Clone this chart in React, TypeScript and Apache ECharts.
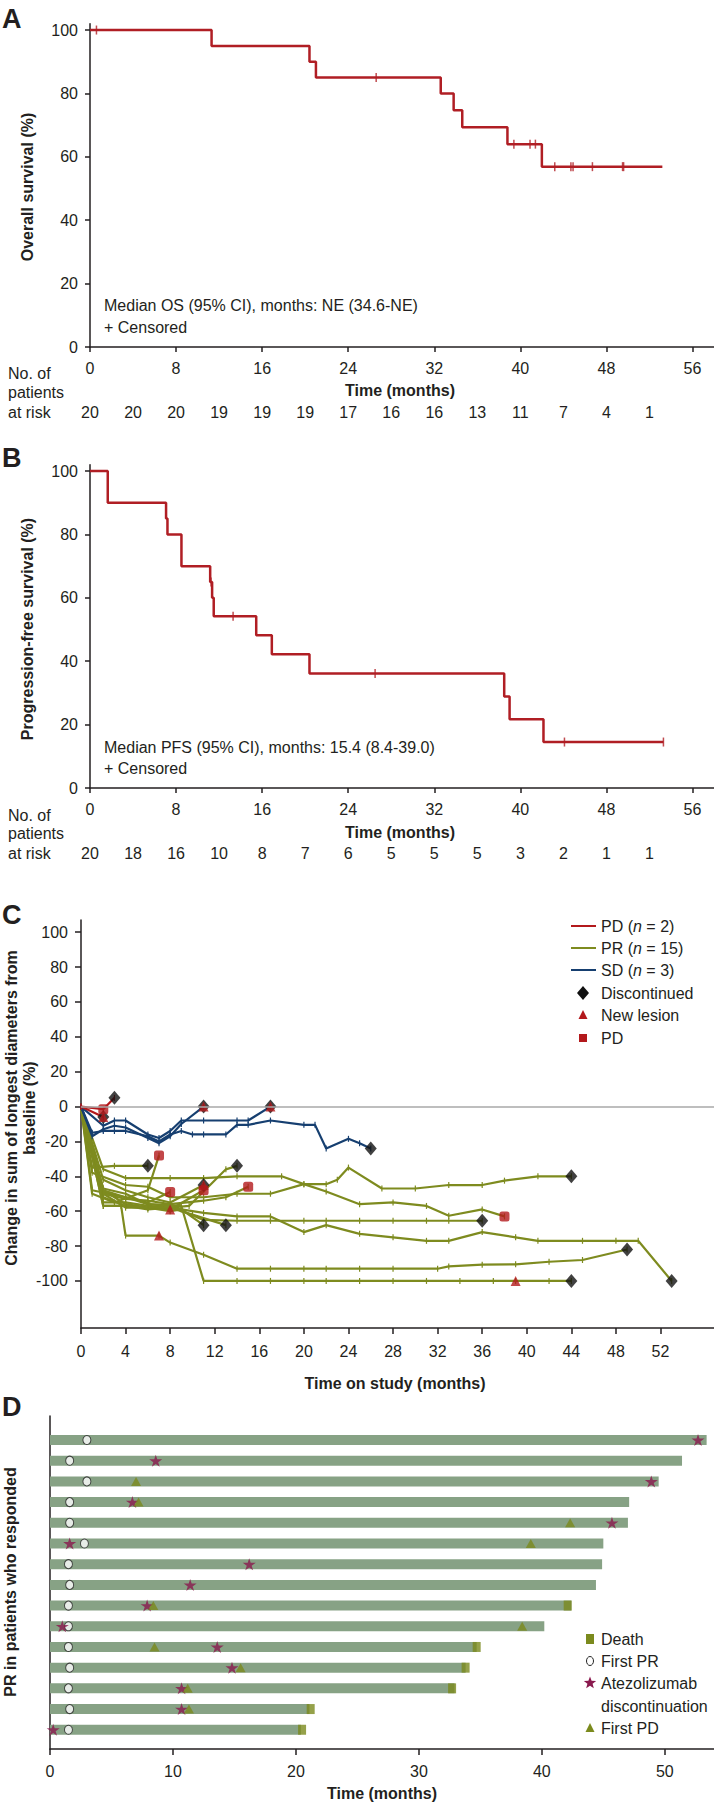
import React, { useEffect, useRef } from "react";
import * as echarts from "echarts";

const FONT = '"Liberation Sans", Arial, Helvetica, sans-serif';
const TXT = "#231f20";
const KM_RED = "#b01e24";
const PD_RED = "#b3191c";
const PR_OLIVE = "#7e8b1f";
const SD_BLUE = "#163f70";
const BAR_GREEN = "#87a285";
const STAR_PURPLE = "#8a1a4e";
const OLIVE_MARK = "#7b8a1d";

// ---------- Panel A: overall survival ----------
const osSteps = [[0, 100], [11.3, 95], [20.4, 90], [21.0, 85], [32.6, 80], [33.8, 74.7], [34.6, 69.3], [38.8, 64.0], [42.0, 56.9], [53.2, 56.9]];
const osCensored = [[0.6, 100], [26.6, 85], [39.4, 64], [40.9, 64], [41.4, 64], [43.2, 56.9], [44.7, 56.9], [44.9, 56.9], [46.7, 56.9], [49.5, 56.9], [49.6, 56.9]];
const osAtRisk = [20, 20, 20, 19, 19, 19, 17, 16, 16, 13, 11, 7, 4, 1];

// ---------- Panel B: progression-free survival ----------
const pfsSteps = [[0, 100], [1.65, 90], [7.07, 85], [7.2, 80], [8.5, 70], [11.17, 65], [11.35, 60], [11.5, 54.2], [15.45, 48.2], [16.9, 42.2], [20.4, 36.1], [38.5, 28.9], [39.0, 21.7], [42.15, 14.5], [53.3, 14.5]];
const pfsCensored = [[11.25, 65], [13.3, 54.2], [26.5, 36.1], [44.1, 14.5], [53.3, 14.5]];
const pfsAtRisk = [20, 18, 16, 10, 8, 7, 6, 5, 5, 5, 3, 2, 1, 1];

const kmXTicks = [0, 8, 16, 24, 32, 40, 48, 56];
const atRiskTimes = [0, 4, 8, 12, 16, 20, 24, 28, 32, 36, 40, 44, 48, 52];
const kmYTicks = [0, 20, 40, 60, 80, 100];

// ---------- Panel C: spider plot ----------
const pdLines = [
  [[0, 0], [2, -1.5], [3, 5]],
  [[0, 0], [2, -6]],
];
const sdLines = [
  [[0, 0], [1, -17], [2, -13], [3, -11], [4, -12], [6, -18], [7, -21], [8, -17], [9, -10], [11, 0]],
  [[0, 0], [2, -11], [3, -8], [4, -8], [6, -16], [7, -18], [8, -14], [9, -8], [11, -8], [14, -8], [15, -8], [17, 0]],
  [[0, 0], [1, -15], [2, -14], [3, -14], [4, -14], [6, -17], [7, -20], [8, -16], [9, -14], [10, -16], [11, -16], [13, -16], [14, -10.5], [15, -10.5], [17, -8], [20, -10.5], [21, -10.5], [22, -24], [24, -18.5], [25, -21], [26, -24]],
];
const prLines = [
  [[0, 0], [1, -35], [3, -34], [6, -34]],
  [[0, 0], [1, -50], [3, -55], [6, -48], [7, -28]],
  [[0, 0], [1, -48], [4, -52], [6, -55], [8, -49]],
  [[0, 0], [2, -42], [4, -48], [6, -52], [8, -55], [11, -45]],
  [[0, 0], [2, -48], [4, -56], [6, -58], [8, -59], [11, -48]],
  [[0, 0], [2, -50], [4, -58], [6, -58], [8, -60], [9, -59], [11, -68]],
  [[0, 0], [2, -52], [4, -57], [6, -59], [8, -58], [10, -62], [13, -68]],
  [[0, 0], [2, -55], [4, -55], [6, -57], [8, -58], [9.7, -57], [13, -36], [14, -34]],
  [[0, 0], [2, -50], [4, -53], [6, -54], [8, -56], [11, -54], [13, -52], [15, -46]],
  [[0, 0], [1, -38], [4, -45], [6, -46], [8, -52], [11, -52], [14, -50], [17, -50], [20, -44.5], [22, -44.5], [23, -42], [24, -35], [27, -47], [30, -47], [33, -45], [36, -45], [38, -42.5], [41, -40], [44, -40]],
  [[0, 0], [2, -36], [4, -41], [8, -41], [11, -41], [14, -40], [18, -40], [20, -44.5], [22, -48.7], [25, -56], [28, -55], [31, -57], [33, -62.6], [36, -59], [38, -63]],
  [[0, 0], [2, -47], [4, -50], [6, -56], [8, -57], [11, -65], [14, -65.5], [17, -65.5], [20, -65.5], [22, -65.5], [25, -65.5], [28, -65.5], [31, -65.5], [33, -65.5], [36, -65.5]],
  [[0, 0], [2, -57], [4, -57], [6, -58], [8, -58], [11, -61], [14, -63], [17, -63], [20, -72], [22, -68], [25, -73], [28, -75], [31, -77], [33, -77], [36, -72], [39, -75], [41, -77], [45, -77], [48, -77], [50, -77], [53, -100]],
  [[0, 0], [2, -57], [3.6, -57], [4, -74], [7, -74], [8, -78], [11, -85], [14, -93], [17, -93], [20, -93], [22, -93], [25, -93], [28, -93], [32, -93], [33, -91.7], [36, -90.7], [39, -90.5], [42, -89], [45, -88], [49, -82]],
  [[0, 0], [2, -48], [4, -52], [6, -56], [9, -57], [11, -100], [14, -100], [17, -100], [20, -100], [22, -100], [25, -100], [28, -100], [31, -100], [34, -100], [37, -100], [39, -100], [42, -100], [44, -100]],
];
const discontinuedPts = [[3, 5], [2, -6], [11, 0], [17, 0], [26, -24], [6, -34], [11, -45], [11, -68], [13, -68], [14, -34], [44, -40], [36, -65.5], [53, -100], [49, -82], [44, -100]];
const newLesionPts = [[2, -6], [11, 0], [17, 0], [11, -45], [8, -59], [7, -74], [39, -100]];
const pdPts = [[2, -1.5], [7, -28], [8, -49], [11, -48], [15, -46], [38, -63]];
const cXTicks = [0, 4, 8, 12, 16, 20, 24, 28, 32, 36, 40, 44, 48, 52];
const cYTicks = [-100, -80, -60, -40, -20, 0, 20, 40, 60, 80, 100];

// ---------- Panel D: swimmer plot ----------
const barEnds = [53.4, 51.4, 49.5, 47.1, 47.0, 45.0, 44.9, 44.4, 42.4, 40.2, 34.7, 33.8, 32.9, 21.1, 20.4];
const firstPR = [3.0, 1.6, 3.0, 1.6, 1.6, 2.8, 1.5, 1.6, 1.5, 1.5, 1.5, 1.6, 1.5, 1.6, 1.5];
const atezoDisc = [52.7, 8.6, 48.9, 6.7, 45.7, 1.6, 16.2, 11.4, 7.9, 1.0, 13.6, 14.8, 10.7, 10.7, 0.26];
const firstPD = [null, null, 7.0, 7.2, 42.3, 39.1, null, null, 8.4, 38.4, 8.5, 15.5, 11.2, 11.3, null];
const deathT = [null, null, null, null, null, null, null, null, 42.1, null, 34.7, 33.8, 32.7, 21.2, 20.5];
const dXTicks = [0, 10, 20, 30, 40, 50];

const STAR = "path://M50,0 L61,35 L98,35 L68,57 L79,91 L50,70 L21,91 L32,57 L2,35 L39,35 Z";

const axisLine = { show: true, onZero: false, lineStyle: { color: TXT, width: 1.5 } };
const lbl = { color: TXT, fontSize: 16, fontFamily: FONT };

function txt(x: number, y: number, text: string, extra: any = {}, rot = 0) {
  return {
    type: "text",
    x,
    y,
    rotation: rot,
    silent: true,
    style: {
      text,
      fill: TXT,
      fontSize: 16,
      fontFamily: FONT,
      align: "left",
      verticalAlign: "middle",
      ...extra,
    },
  };
}

function starPoints(cx: number, cy: number, r: number) {
  const pts: number[][] = [];
  for (let i = 0; i < 10; i++) {
    const rr = i % 2 === 0 ? r : r * 0.42;
    const a = -Math.PI / 2 + (i * Math.PI) / 5;
    pts.push([cx + rr * Math.cos(a), cy + rr * Math.sin(a)]);
  }
  return pts;
}

function kmX(grid: number) {
  return {
    gridIndex: grid,
    type: "value",
    min: 0,
    max: 58,
    interval: 8,
    axisLine,
    axisTick: { show: true, length: 5, customValues: kmXTicks, lineStyle: { color: TXT, width: 1.5 } },
    axisLabel: { ...lbl, margin: 13, customValues: kmXTicks, formatter: (v: number) => (v > 56 ? "" : String(v)) },
    splitLine: { show: false },
  };
}
function riskX(grid: number, counts: number[]) {
  return {
    gridIndex: grid,
    type: "value",
    position: "bottom",
    offset: 49,
    min: 0,
    max: 58,
    interval: 4,
    axisLine: { show: false },
    axisTick: { show: false },
    axisLabel: {
      ...lbl,
      margin: 8,
      customValues: atRiskTimes,
      formatter: (v: number) => {
        const i = atRiskTimes.indexOf(v);
        return i >= 0 ? String(counts[i]) : "";
      },
    },
    splitLine: { show: false },
  };
}
function kmY(grid: number) {
  return {
    gridIndex: grid,
    type: "value",
    min: 0,
    max: 102,
    interval: 20,
    axisLine,
    axisTick: { show: true, length: 5, customValues: kmYTicks, lineStyle: { color: TXT, width: 1.5 } },
    axisLabel: { ...lbl, margin: 12, customValues: kmYTicks, formatter: (v: number) => (v > 100 ? "" : String(v)) },
    splitLine: { show: false },
  };
}

function buildOption() {
  const series: any[] = [];
  // KM curves
  series.push({ type: "line", xAxisIndex: 0, yAxisIndex: 0, step: "end", data: osSteps, symbol: "none", lineStyle: { color: KM_RED, width: 2.5 }, emphasis: { disabled: true } });
  series.push({ type: "scatter", xAxisIndex: 0, yAxisIndex: 0, data: osCensored, symbol: "rect", symbolSize: [1.5, 9], itemStyle: { color: KM_RED }, emphasis: { disabled: true } });
  series.push({ type: "line", xAxisIndex: 2, yAxisIndex: 1, step: "end", data: pfsSteps, symbol: "none", lineStyle: { color: KM_RED, width: 2.5 }, emphasis: { disabled: true } });
  series.push({ type: "scatter", xAxisIndex: 2, yAxisIndex: 1, data: pfsCensored, symbol: "rect", symbolSize: [1.5, 9], itemStyle: { color: KM_RED }, emphasis: { disabled: true } });

  // Panel C zero line
  series.push({
    type: "line", xAxisIndex: 4, yAxisIndex: 2, data: [[0, 0]], symbol: "none", z: 1, lineStyle: { width: 0 },
    markLine: { silent: true, symbol: "none", label: { show: false }, lineStyle: { color: "#a8a8a8", width: 1.5, type: "solid" }, data: [{ yAxis: 0 }] },
  });
  const addLines = (lines: number[][][], color: string, name: string) => {
    lines.forEach((d) => {
      series.push({
        type: "line", name, xAxisIndex: 4, yAxisIndex: 2, data: d, z: 2,
        symbol: "rect", symbolSize: [1.2, 6], showSymbol: true,
        lineStyle: { color, width: 2.2 }, itemStyle: { color }, emphasis: { disabled: true },
      });
    });
  };
  addLines(prLines, PR_OLIVE, "PR");
  addLines(sdLines, SD_BLUE, "SD");
  addLines(pdLines, PD_RED, "PD");
  series.push({ type: "scatter", name: "Discontinued", xAxisIndex: 4, yAxisIndex: 2, data: discontinuedPts, z: 3, symbol: "diamond", symbolSize: [12, 14], itemStyle: { color: "#111111" }, emphasis: { disabled: true } });
  series.push({ type: "scatter", name: "New lesion", xAxisIndex: 4, yAxisIndex: 2, data: newLesionPts, z: 4, symbol: "triangle", symbolSize: [10, 10], itemStyle: { color: PD_RED }, emphasis: { disabled: true } });
  series.push({ type: "scatter", name: "PD", xAxisIndex: 4, yAxisIndex: 2, data: pdPts, z: 4, symbol: "roundRect", symbolSize: [10, 10], itemStyle: { color: PD_RED }, emphasis: { disabled: true } });

  // Panel D swimmer bars
  series.push({
    type: "custom", xAxisIndex: 5, yAxisIndex: 3, z: 2,
    data: barEnds.map((e, i) => [i, e]),
    encode: { x: 1, y: 0 },
    renderItem: (params: any, api: any) => {
      const row = api.value(0);
      const end = api.value(1);
      const s = api.coord([0, row]);
      const e = api.coord([end, row]);
      return { type: "rect", shape: { x: s[0], y: s[1] - 5, width: e[0] - s[0], height: 10 }, style: { fill: BAR_GREEN } };
    },
  });
  const rowPts = (arr: (number | null)[]) => arr.flatMap((v, i) => (v == null ? [] : [[v, i]]));
  series.push({ type: "scatter", name: "First PR", xAxisIndex: 5, yAxisIndex: 3, z: 3, data: rowPts(firstPR), symbol: "circle", symbolSize: [8, 9], itemStyle: { color: "#ffffff", borderColor: "#222", borderWidth: 1 }, emphasis: { disabled: true } });
  series.push({ type: "scatter", name: "Atezolizumab discontinuation", xAxisIndex: 5, yAxisIndex: 3, z: 4, data: rowPts(atezoDisc), symbol: STAR, symbolSize: [13, 12], itemStyle: { color: STAR_PURPLE }, emphasis: { disabled: true } });
  series.push({ type: "scatter", name: "First PD", xAxisIndex: 5, yAxisIndex: 3, z: 4, data: rowPts(firstPD), symbol: "triangle", symbolSize: [10, 9], itemStyle: { color: OLIVE_MARK }, emphasis: { disabled: true } });
  series.push({ type: "scatter", name: "Death", xAxisIndex: 5, yAxisIndex: 3, z: 4, data: rowPts(deathT), symbol: "rect", symbolSize: [8, 10], itemStyle: { color: OLIVE_MARK }, emphasis: { disabled: true } });

  const bold = { fontWeight: "bold" };
  const graphics: any[] = [
    // Panel letters
    txt(2, 19, "A", { fontSize: 27, fontWeight: "bold" }),
    txt(2, 458, "B", { fontSize: 27, fontWeight: "bold" }),
    txt(2, 915, "C", { fontSize: 27, fontWeight: "bold" }),
    txt(2, 1407, "D", { fontSize: 27, fontWeight: "bold" }),
    // Panel A
    txt(27, 187, "Overall survival (%)", { ...bold, align: "center" }, Math.PI / 2),
    txt(104, 305, "Median OS (95% CI), months: NE (34.6-NE)"),
    txt(104, 327, "+ Censored"),
    txt(8, 373, "No. of"),
    txt(8, 392, "patients"),
    txt(8, 412, "at risk"),
    txt(400, 390, "Time (months)", { ...bold, align: "center" }),
    // Panel B
    txt(27, 629, "Progression-free survival (%)", { ...bold, align: "center" }, Math.PI / 2),
    txt(104, 747, "Median PFS (95% CI), months: 15.4 (8.4-39.0)"),
    txt(104, 768, "+ Censored"),
    txt(8, 815, "No. of"),
    txt(8, 833, "patients"),
    txt(8, 853, "at risk"),
    txt(400, 832, "Time (months)", { ...bold, align: "center" }),
    // Panel C
    txt(11, 1108, "Change in sum of longest diameters from", { ...bold, align: "center" }, Math.PI / 2),
    txt(29, 1108, "baseline (%)", { ...bold, align: "center" }, Math.PI / 2),
    txt(395, 1383, "Time on study (months)", { ...bold, align: "center" }),
    // Panel D
    txt(10, 1582, "PR in patients who responded", { ...bold, align: "center" }, Math.PI / 2),
    txt(382, 1793, "Time (months)", { ...bold, align: "center" }),
  ];

  // Legend C
  const legC = [926, 948, 970, 993, 1015, 1038];
  const rich = { i: { fontStyle: "italic", fontSize: 16, fontFamily: FONT, fill: TXT } };
  [[PD_RED, "PD ({i|n} = 2)"], [PR_OLIVE, "PR ({i|n} = 15)"], [SD_BLUE, "SD ({i|n} = 3)"]].forEach(([c, t], k) => {
    graphics.push({ type: "line", silent: true, shape: { x1: 571, y1: legC[k], x2: 596, y2: legC[k] }, style: { stroke: c, lineWidth: 2 } });
    graphics.push(txt(601, legC[k], t as string, { rich }));
  });
  graphics.push({ type: "polygon", silent: true, shape: { points: [[583, legC[3] - 7], [589, legC[3]], [583, legC[3] + 7], [577, legC[3]]] }, style: { fill: "#111111" } });
  graphics.push(txt(601, legC[3], "Discontinued"));
  graphics.push({ type: "polygon", silent: true, shape: { points: [[583, legC[4] - 5], [587.5, legC[4] + 4], [578.5, legC[4] + 4]] }, style: { fill: PD_RED } });
  graphics.push(txt(601, legC[4], "New lesion"));
  graphics.push({ type: "rect", silent: true, shape: { x: 579, y: legC[5] - 4, width: 8, height: 8 }, style: { fill: PD_RED } });
  graphics.push(txt(601, legC[5], "PD"));

  // Legend D
  const legD = [1639, 1661, 1683, 1706, 1728];
  graphics.push({ type: "rect", silent: true, shape: { x: 586, y: legD[0] - 5, width: 8, height: 10 }, style: { fill: OLIVE_MARK } });
  graphics.push(txt(601, legD[0], "Death"));
  graphics.push({ type: "ellipse", silent: true, shape: { cx: 590, cy: legD[1], rx: 3.5, ry: 4.5 }, style: { fill: "#fff", stroke: "#222", lineWidth: 1 } });
  graphics.push(txt(601, legD[1], "First PR"));
  graphics.push({ type: "polygon", silent: true, shape: { points: starPoints(590, legD[2], 6.5) }, style: { fill: STAR_PURPLE } });
  graphics.push(txt(601, legD[2], "Atezolizumab"));
  graphics.push(txt(601, legD[3], "discontinuation"));
  graphics.push({ type: "polygon", silent: true, shape: { points: [[590, legD[4] - 5], [594.5, legD[4] + 4], [585.5, legD[4] + 4]] }, style: { fill: OLIVE_MARK } });
  graphics.push(txt(601, legD[4], "First PD"));

  return {
    animation: false,
    backgroundColor: "#ffffff",
    textStyle: { fontFamily: FONT },
    grid: [
      { left: 90, top: 23.7, width: 624, height: 323.3, outerBoundsMode: "none", containLabel: false },
      { left: 90, top: 464.7, width: 624, height: 323.3, outerBoundsMode: "none", containLabel: false },
      { left: 81, top: 920, width: 633, height: 408, outerBoundsMode: "none", containLabel: false },
      { left: 50, top: 1416, width: 664, height: 333, outerBoundsMode: "none", containLabel: false },
    ],
    xAxis: [
      kmX(0),
      riskX(0, osAtRisk),
      kmX(1),
      riskX(1, pfsAtRisk),
      {
        gridIndex: 2, type: "value", min: 0, max: 56.8, axisLine,
        axisTick: { show: true, length: 6, customValues: cXTicks, lineStyle: { color: TXT, width: 1.5 } },
        axisLabel: { ...lbl, margin: 15, customValues: cXTicks },
        splitLine: { show: false },
      },
      {
        gridIndex: 3, type: "value", min: 0, max: 54, axisLine,
        axisTick: { show: true, length: 6, customValues: dXTicks, lineStyle: { color: TXT, width: 1.5 } },
        axisLabel: { ...lbl, margin: 14, customValues: dXTicks },
        splitLine: { show: false },
      },
    ],
    yAxis: [
      kmY(0),
      kmY(1),
      {
        gridIndex: 2, type: "value", min: -127, max: 107, axisLine,
        axisTick: { show: true, length: 6, customValues: cYTicks, lineStyle: { color: TXT, width: 1.5 } },
        axisLabel: { ...lbl, margin: 13, customValues: cYTicks },
        splitLine: { show: false },
      },
      {
        gridIndex: 3, type: "value", min: -1.16, max: 14.93, inverse: true, axisLine,
        axisTick: { show: false }, axisLabel: { show: false }, splitLine: { show: false },
      },
    ],
    series,
    graphic: graphics,
  };
}

export default function App() {
  const ref = useRef<HTMLDivElement>(null);
  useEffect(() => {
    const chart = echarts.init(ref.current as HTMLDivElement, null, { renderer: "svg" });
    chart.setOption(buildOption() as any);
    return () => chart.dispose();
  }, []);
  return (
    <div
      ref={ref}
      style={{ position: "absolute", left: 0, top: 0, width: 714, height: 1805, background: "#fff" }}
    />
  );
}
